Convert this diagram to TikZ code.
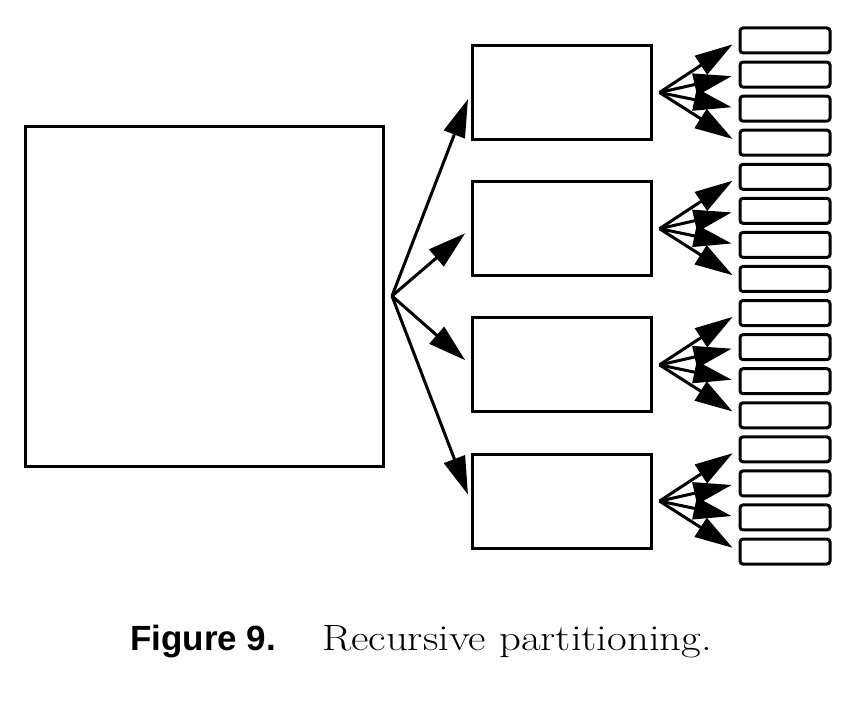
\documentclass[tikz,border=0pt]{standalone}
\usepackage{fontspec}
\newfontfamily\capsans{Liberation Sans}
\usetikzlibrary{arrows.meta}

\begin{document}
\begin{tikzpicture}[x=1pt,y=-1pt,
    box/.style={draw,line width=3pt,inner sep=0pt},
    cell/.style={draw,line width=3pt,inner sep=0pt,rounded corners=3pt,
      minimum width=90pt,minimum height=25pt},
    fan/.style={line width=3pt,-{Triangle[length=38pt,width=22pt]},shorten >=7pt}]
     \useasboundingbox (0,0) rectangle (866,714);
     \node[box,minimum width=358pt,minimum height=339pt] (whole) at (204,296.5) {};
     \coordinate (root) at (392,296);
     \foreach \i in {1,...,4} {
      \node[box,minimum width=179pt,minimum height=94pt] (m\i) at (561.5,{92.5+136.2*(\i-1)}) {};
      \coordinate (f\i) at ([xshift=7pt]m\i.east);
     }
     \foreach \j in {1,...,16}
      \node[cell] (s\j) at (785,{40.5+34.07*(\j-1)}) {};
     \foreach \i in {1,...,4} {
      \draw[fan] (root) -- (m\i.west);
      \foreach \k in {1,...,4} {
       \pgfmathtruncatemacro{\j}{4*(\i-1)+\k}
       \draw[fan] (f\i) -- (s\j.west);
      }
     }
     \node[anchor=base west,inner sep=0pt] (fig) at (130,650)
      {\capsans\bfseries\fontsize{35}{40}\selectfont Figure 9.};
     \node[anchor=base west,inner sep=0pt] (title) at (322,650)
      {\scalebox{1.17}[1]{\fontsize{36.6}{42}\selectfont Recursive partitioning.}};
    \end{tikzpicture}
\end{document}
